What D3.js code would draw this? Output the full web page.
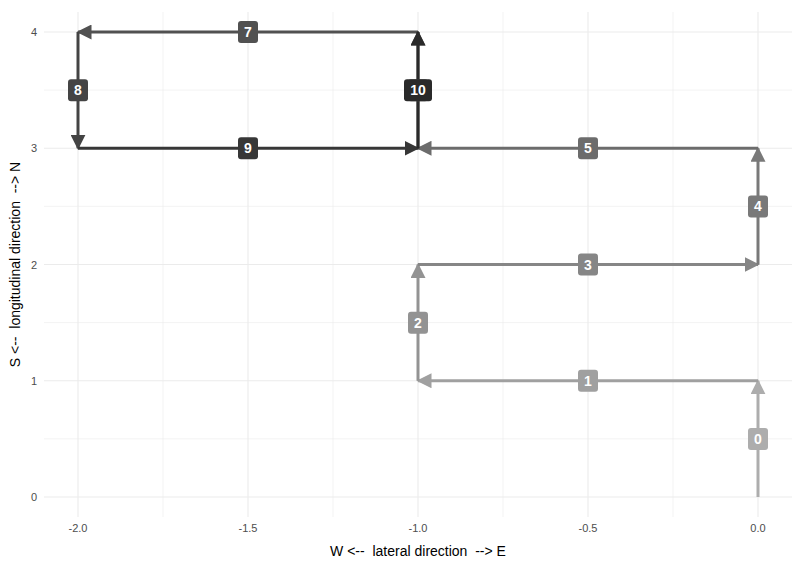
<!DOCTYPE html>
<meta charset="utf-8">
<script src="https://d3js.org/d3.v7.min.js"></script>
<style>body{margin:0;background:#fff;font-family:"Liberation Sans",Arial,sans-serif;} text{white-space:pre;}</style>
<div id="chart"></div>
<script>
// walk steps: start and end points
var steps = [0,1,2,3,4,5,6,7,8,9,10];
var x0 = [0, 0,-1,-1, 0, 0,-1,-1,-2,-2,-1];
var y0 = [0, 1, 1, 2, 2, 3, 3, 4, 4, 3, 3];
var x1 = [0,-1,-1, 0, 0,-1,-1,-2,-2,-1,-1];
var y1 = [1, 1, 2, 2, 3, 3, 4, 4, 3, 3, 4];
var xTicks = [-2,-1.5,-1,-0.5,0];
var yTicks = [0,1,2,3,4];

var W = 800, H = 571;
var svg = d3.select("#chart").append("svg").attr("width", W).attr("height", H);

var x = d3.scaleLinear().domain([-2, 0]).range([78, 758]);
var y = d3.scaleLinear().domain([0, 4]).range([497, 32]);
var pL = 44, pR = 792, pT = 12, pB = 517;

var grid = svg.append("g");
d3.range(-2.25, 0.01, 0.25).forEach(function(v){
  var major = xTicks.indexOf(+v.toFixed(2)) >= 0;
  grid.append("line").attr("x1", x(v)).attr("x2", x(v)).attr("y1", pT).attr("y2", pB)
    .attr("stroke", "#ebebeb").attr("stroke-width", major ? 1.1 : 0.6);
});
d3.range(0, 4.01, 0.5).forEach(function(v){
  var major = yTicks.indexOf(v) >= 0;
  grid.append("line").attr("y1", y(v)).attr("y2", y(v)).attr("x1", pL).attr("x2", pR)
    .attr("stroke", "#ebebeb").attr("stroke-width", major ? 1.1 : 0.6);
});

svg.selectAll(".xt").data(xTicks).enter().append("text")
  .attr("x", function(d){return x(d);}).attr("y", 532).attr("text-anchor", "middle")
  .attr("font-size", 11).attr("fill", "#4d4d4d").text(function(d){return d.toFixed(1);});
svg.selectAll(".yt").data(yTicks).enter().append("text")
  .attr("x", 37).attr("y", function(d){return y(d) + 4;}).attr("text-anchor", "end")
  .attr("font-size", 11).attr("fill", "#4d4d4d").text(function(d){return d;});

svg.append("text").attr("x", (pL + pR) / 2).attr("y", 556).attr("text-anchor", "middle")
  .attr("font-size", 14).text("W <--  lateral direction  --> E");
svg.append("text").attr("transform", "translate(20," + (pT + pB) / 2 + ") rotate(-90)")
  .attr("text-anchor", "middle").attr("font-size", 14).text("S <--  longitudinal direction  --> N");

var col = function(i){ return d3.interpolateRgb("#adadad", "#2a2a2a")(i / 10); };

var defs = svg.append("defs");
steps.forEach(function(i){
  defs.append("marker").attr("id", "m" + i).attr("viewBox", "0 0 10 10")
    .attr("refX", 9).attr("refY", 5).attr("markerWidth", 5).attr("markerHeight", 5)
    .attr("orient", "auto").attr("markerUnits", "strokeWidth")
    .append("path").attr("d", "M0,0L10,5L0,10Z").attr("fill", col(i));
});

var g = svg.append("g");
steps.forEach(function(i){
  g.append("line").attr("x1", x(x0[i])).attr("y1", y(y0[i])).attr("x2", x(x1[i])).attr("y2", y(y1[i]))
    .attr("stroke", col(i)).attr("stroke-width", 3).attr("marker-end", "url(#m" + i + ")");
});
steps.forEach(function(i){
  var cx = x((x0[i] + x1[i]) / 2), cy = y((y0[i] + y1[i]) / 2);
  var w = i >= 10 ? 28 : 20;
  g.append("rect").attr("x", cx - w / 2).attr("y", cy - 11).attr("width", w).attr("height", 22)
    .attr("rx", 3).attr("fill", col(i));
  g.append("text").attr("x", cx).attr("y", cy + 5).attr("text-anchor", "middle")
    .attr("font-size", 14).attr("font-weight", "bold").attr("fill", "#fff").text(i);
});
</script>
